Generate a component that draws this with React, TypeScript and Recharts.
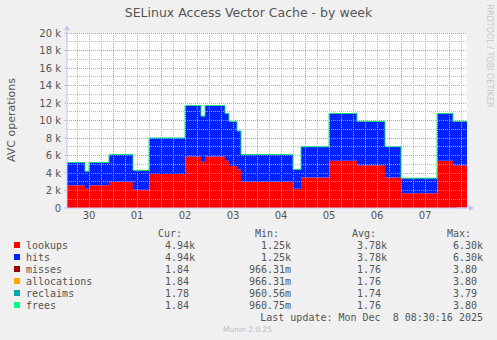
import { AreaChart, Area, XAxis, YAxis, CartesianGrid, ReferenceLine } from "recharts";

// samples every 2 hours, starting Nov 30 ~01:00 (values in thousands)
const STEP_H = 2;
const lookupsK = [
  2.6, 2.6, 2.6, 2.6, 2.6, 2.2, 2.6, 2.6, 2.6, 2.6, 2.6,
  3.0, 3.0, 3.0, 3.0, 3.0, 3.0, 2.1, 2.1, 2.1, 2.1,
  3.9, 3.9, 3.9, 3.9, 3.9, 3.9, 3.9, 3.9, 3.9,
  5.9, 5.9, 5.9, 5.9, 5.3, 5.9, 5.9, 5.9, 5.9, 5.9,
  5.4, 4.8, 4.8, 4.4,
  3.0, 3.0, 3.0, 3.0, 3.0, 3.0, 3.0, 3.0, 3.0, 3.0, 3.0, 3.0, 3.0,
  2.2, 2.2,
  3.5, 3.5, 3.5, 3.5, 3.5, 3.5, 3.5,
  5.4, 5.4, 5.4, 5.4, 5.4, 5.4, 5.4,
  4.9, 4.9, 4.9, 4.9, 4.9, 4.9, 4.9,
  3.5, 3.5, 3.5, 3.5,
  1.7, 1.7, 1.7, 1.7, 1.7, 1.7, 1.7, 1.7, 1.7,
  5.4, 5.4, 5.4, 5.4,
  4.9, 4.9, 4.9, 4.9,
];
const hitsK = [
  2.6, 2.6, 2.6, 2.6, 2.6, 2.0, 2.6, 2.6, 2.6, 2.6, 2.6,
  3.1, 3.1, 3.1, 3.1, 3.1, 3.1, 2.2, 2.2, 2.2, 2.2,
  4.1, 4.1, 4.1, 4.1, 4.1, 4.1, 4.1, 4.1, 4.1,
  5.8, 5.8, 5.8, 5.8, 5.2, 5.8, 5.8, 5.8, 5.8, 5.8,
  5.4, 5.1, 5.1, 4.4,
  3.1, 3.1, 3.1, 3.1, 3.1, 3.1, 3.1, 3.1, 3.1, 3.1, 3.1, 3.1, 3.1,
  2.2, 2.2,
  3.5, 3.5, 3.5, 3.5, 3.5, 3.5, 3.5,
  5.4, 5.4, 5.4, 5.4, 5.4, 5.4, 5.4,
  5.0, 5.0, 5.0, 5.0, 5.0, 5.0, 5.0,
  3.5, 3.5, 3.5, 3.5,
  1.7, 1.7, 1.7, 1.7, 1.7, 1.7, 1.7, 1.7, 1.7,
  5.4, 5.4, 5.4, 5.4,
  5.0, 5.0, 5.0, 5.0,
];
// the small counters are a few per second, invisible at this scale
const smallAvg = { misses: 1.76, allocations: 1.76, reclaims: 1.74, frees: 1.76 };

const dayTicks = [11, 35, 59, 83, 107, 131, 155, 179];
const dayLabels = ["30", "01", "02", "03", "04", "05", "06", "07"];
const midnights = [23, 47, 71, 95, 119, 143, 167, 191];
const quarterDays = [5, 11, 17, 29, 35, 41, 53, 59, 65, 77, 83, 89, 101, 107, 113, 125, 131, 137, 149, 155, 161, 173, 179, 185, 197];
const yTicks = [0, 2000, 4000, 6000, 8000, 10000, 12000, 14000, 16000, 18000, 20000];
const yMinor = [1000, 3000, 5000, 7000, 9000, 11000, 13000, 15000, 17000, 19000];

const series = ["lookups", "hits", "misses", "allocations", "reclaims", "frees"];
const colors = ["#ff0000", "#0022ff", "#990000", "#ffa500", "#00aaaa", "#00ff7f"];
const curVals = ["  4.94k", "  4.94k", "  1.84 ", "  1.84 ", "  1.78 ", "  1.84 "];
const minVals = ["  1.25k", "  1.25k", "966.31m", "966.31m", "960.56m", "960.75m"];
const avgVals = ["  3.78k", "  3.78k", "  1.76 ", "  1.76 ", "  1.74 ", "  1.76 "];
const maxVals = ["  6.30k", "  6.30k", "  3.80 ", "  3.80 ", "  3.79 ", "  3.80 "];

const data = lookupsK.map((v, i) => ({
  h: i * STEP_H,
  lookups: v * 1000,
  hits: hitsK[i] * 1000,
  ...smallAvg,
}));

const sans = "'DejaVu Sans', sans-serif";
const mono = "'DejaVu Sans Mono', monospace";
const textGray = "#555";
const axisColor = "#c4c4f0";
const minorGrid = { stroke: "#b8b8b8", strokeWidth: 1, strokeDasharray: "1 1", shapeRendering: "crispEdges" };
const majorGrid = { stroke: "#f08a8a", strokeWidth: 1, strokeDasharray: "1 1", shapeRendering: "crispEdges" };

// rrdtool-style axis extension with a small arrow head
const AxisArrow = (p: any) => {
  const { x1, y1, x2, y2 } = p;
  if (x1 == null || y1 == null) return null;
  const len = Math.hypot(x2 - x1, y2 - y1) || 1;
  const ux = (x2 - x1) / len;
  const uy = (y2 - y1) / len;
  const bx = x2 - ux * 5;
  const by = y2 - uy * 5;
  return (
    <g>
      <line x1={x1} y1={y1} x2={bx} y2={by} stroke={axisColor} />
      <polygon
        points={`${x2},${y2} ${bx - uy * 3},${by + ux * 3} ${bx + uy * 3},${by - ux * 3}`}
        fill={axisColor}
      />
    </g>
  );
};

const abs = (left: number, top: number, extra: React.CSSProperties = {}): React.CSSProperties => ({
  position: "absolute",
  left,
  top,
  whiteSpace: "pre",
  lineHeight: "12px",
  ...extra,
});

export default function App() {
  const colLeft = [153, 249, 345, 441];
  const headLeft = [158, 255, 352, 447];
  return (
    <div style={{ position: "absolute", left: 0, top: 0, width: 497, height: 340, background: "#f0f0f0", overflow: "hidden" }}>
      <AreaChart
        width={497}
        height={340}
        data={data}
        margin={{ top: 33, right: 30, bottom: 112, left: 0 }}
      >
        <CartesianGrid fill="#ffffff" horizontal={false} vertical={false} />
        <XAxis
          dataKey="h"
          type="number"
          domain={[0, 200]}
          ticks={dayTicks}
          tickFormatter={(v: number) => dayLabels[dayTicks.indexOf(v)]}
          height={20}
          tickSize={4}
          tickMargin={0}
          tickLine={false}
          stroke={axisColor}
          tick={{ fill: textGray, fontSize: 10, fontFamily: sans }}
          allowDataOverflow
        />
        <YAxis
          type="number"
          domain={[0, 20000]}
          ticks={yTicks}
          width={67}
          tickSize={3}
          tickMargin={3}
          tickLine={{ stroke: axisColor }}
          stroke={axisColor}
          interval={0}
          tickFormatter={(v: number) => (v === 0 ? "0" : `${v / 1000} k`)}
          tick={{ fill: textGray, fontSize: 10, fontFamily: sans }}
          allowDataOverflow
        />
        {series.map((s, i) => (
          <Area
            key={s}
            dataKey={s}
            stackId="avc"
            type="step"
            fill={colors[i]}
            fillOpacity={1}
            stroke={s === "frees" ? "#10e070" : "none"}
            strokeWidth={1}
            isAnimationActive={false}
            dot={false}
            activeDot={false}
          />
        ))}
        {quarterDays.map((h) => (
          <ReferenceLine key={`q${h}`} x={h} ifOverflow="extendDomain" {...minorGrid} />
        ))}
        {midnights.map((h) => (
          <ReferenceLine key={`m${h}`} x={h} ifOverflow="extendDomain" {...majorGrid} />
        ))}
        {yMinor.map((v) => (
          <ReferenceLine key={`y${v}`} y={v} ifOverflow="extendDomain" {...minorGrid} />
        ))}
        {yTicks.slice(1).map((v) => (
          <ReferenceLine key={`Y${v}`} y={v} ifOverflow="extendDomain" {...majorGrid} />
        ))}
        <ReferenceLine
          segment={[{ x: 0, y: 19000 }, { x: 0, y: 20900 }]}
          ifOverflow="visible"
          shape={AxisArrow}
        />
        <ReferenceLine
          segment={[{ x: 195, y: 0 }, { x: 203.5, y: 0 }]}
          ifOverflow="visible"
          shape={AxisArrow}
        />
      </AreaChart>

      <div style={abs(0, 6, { width: 497, textAlign: "center", fontFamily: sans, fontSize: 12.5, color: textGray, lineHeight: "14px" })}>
        SELinux Access Vector Cache - by week
      </div>
      <div
        style={abs(12, 120, {
          fontFamily: sans,
          fontSize: 11,
          color: textGray,
          transform: "translate(-50%, -50%) rotate(-90deg)",
        })}
      >
        AVC operations
      </div>
      <div
        style={abs(489, 56, {
          fontFamily: sans,
          fontSize: 8,
          color: "#c8c8c8",
          transform: "translate(-50%, -50%) rotate(90deg)",
        })}
      >
        RRDTOOL / TOBI OETIKER
      </div>

      {["Cur:", "Min:", "Avg:", "Max:"].map((h, j) => (
        <div key={h} style={abs(headLeft[j], 228, { fontFamily: mono, fontSize: 10, color: textGray })}>
          {h}
        </div>
      ))}
      {series.map((s, i) => (
        <div key={s}>
          <div style={{ position: "absolute", left: 14, top: 242 + i * 12, width: 6, height: 6, background: colors[i] }} />
          <div style={abs(26, 240 + i * 12, { fontFamily: mono, fontSize: 10, color: textGray })}>{s}</div>
          {[curVals, minVals, avgVals, maxVals].map((col, j) => (
            <div key={j} style={abs(colLeft[j], 240 + i * 12, { fontFamily: mono, fontSize: 10, color: textGray })}>
              {col[i]}
            </div>
          ))}
        </div>
      ))}
      <div style={abs(0, 312, { width: 483, textAlign: "right", fontFamily: mono, fontSize: 10, color: textGray })}>
        Last update: Mon Dec  8 08:30:16 2025
      </div>
      <div style={abs(223, 325, { fontFamily: sans, fontSize: 7.5, color: "#bbb", lineHeight: "10px" })}>Munin 2.0.25</div>
    </div>
  );
}
